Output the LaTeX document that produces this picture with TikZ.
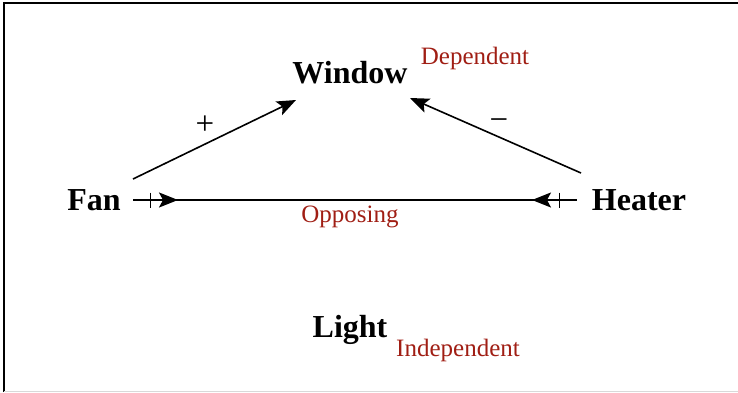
\documentclass[tikz,border=0pt]{standalone}
\usepackage{fontspec}
\setmainfont{Liberation Serif}
\usetikzlibrary{arrows.meta,decorations.markings}
\definecolor{lblred}{RGB}{160,30,20}
\tikzset{
  var/.style={font=\fontsize{32}{36}\selectfont\bfseries, inner sep=0pt, anchor=base},
  role/.style={font=\fontsize{25}{28}\selectfont, text=lblred, inner sep=0pt, anchor=base},
  sign/.style={font=\fontsize{33}{36}\selectfont, inner sep=0pt},
  headtip/.tip={Stealth[length=19pt,width=15pt,inset=4pt]},
  bartip/.tip={Bar[width=15pt,line width=1.3pt]},
  link/.style={line width=1.6pt, -headtip},
}
\begin{document}
\begin{tikzpicture}[x=1pt,y=-1pt]
\useasboundingbox (0,0) rectangle (738,392);
\draw[line width=1.5pt] (4,392) -- (4,3) -- (738,3);
\draw[gray!30,line width=1pt] (4,391) -- (738,391);
\node[var] (window) at (350,83) {Window};
\node[role] (dep) at (475,64) {Dependent};
\node[var] (fan) at (94,210) {Fan};
\node[var] (heater) at (639,210) {Heater};
\node[var] (light) at (350,337) {Light};
\node[role] (indep) at (458,356) {Independent};
\node[role] (opp) at (350,222) {Opposing};
\coordinate (fs) at (133,179);
\coordinate (fw) at (296,100);
\coordinate (hs) at (581,173);
\coordinate (hw) at (410,98);
\coordinate (fe) at (133,200);
\coordinate (he) at (577,200);
\draw[link] (fs) -- (fw);
\draw[link] (hs) -- (hw);
\node[sign] (plus) at (205,125) {+};
\node[sign] (minus) at (499,125) {\textminus};
\draw[line width=1.6pt, postaction={decorate},
  decoration={markings,
    mark=at position 18pt with {\arrow{bartip}},
    mark=at position 45pt with {\arrow{headtip}},
    mark=at position -18pt with {\arrowreversed{bartip}},
    mark=at position -45pt with {\arrowreversed{headtip}}}]
  (fe) -- (he);
\end{tikzpicture}
\end{document}
